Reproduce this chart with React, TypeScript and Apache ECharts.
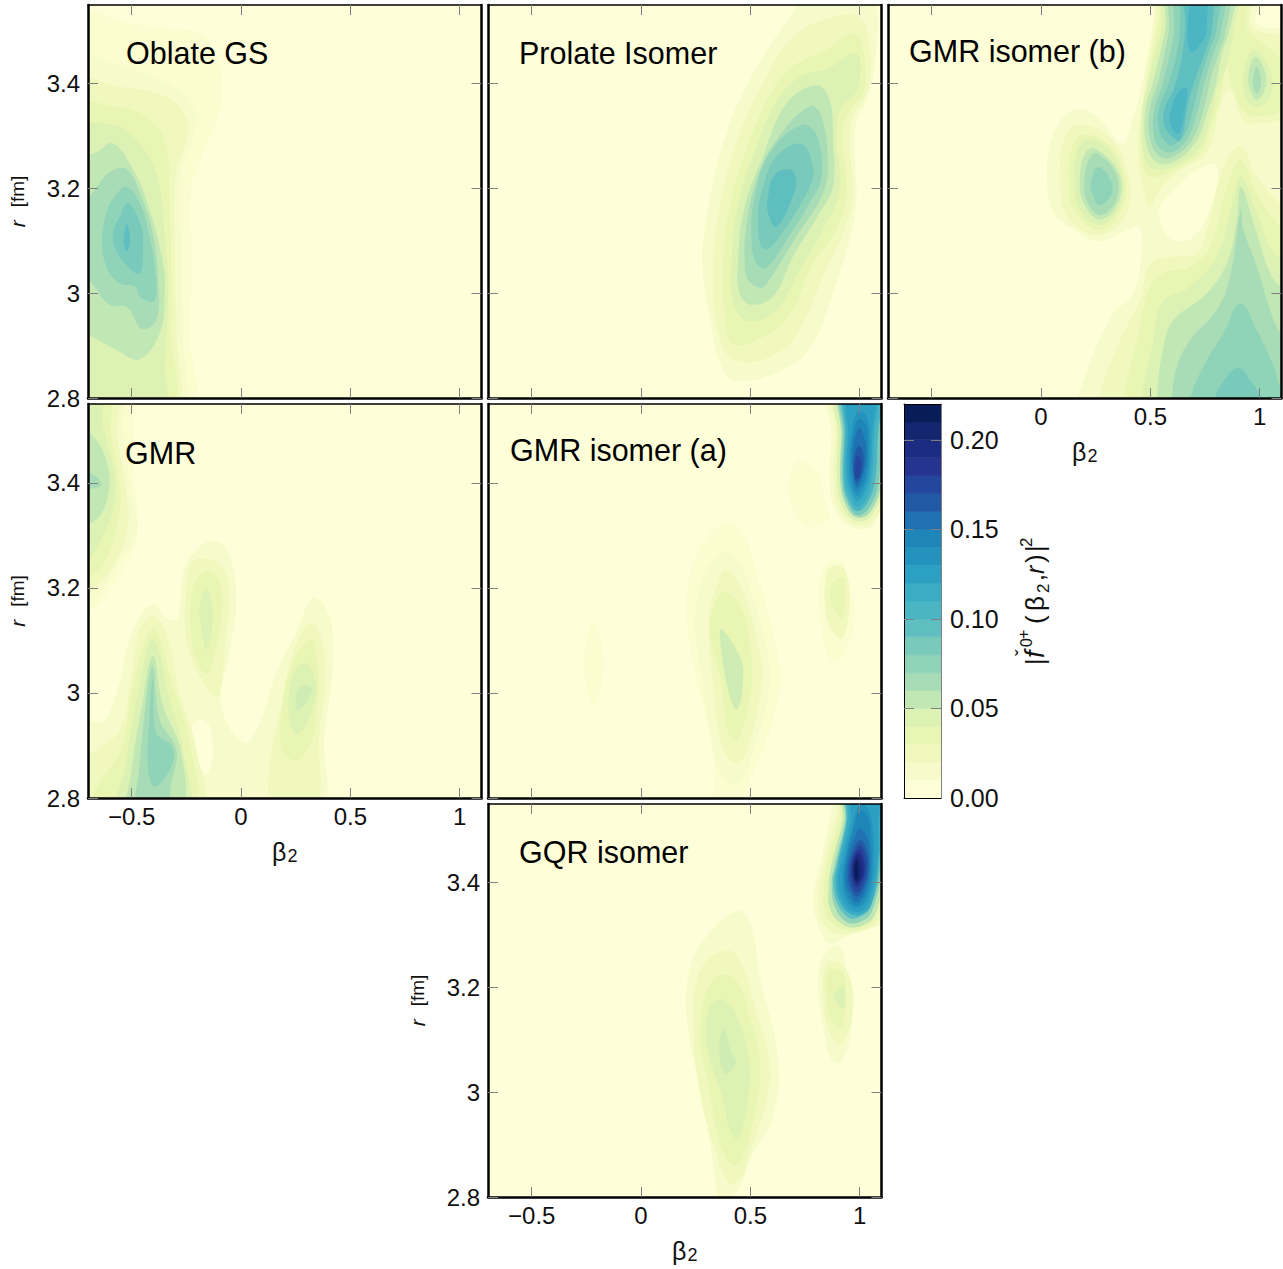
import React, { useEffect, useRef } from "react";
import * as echarts from "echarts";

type Contour = [number, number[]];

const bandColors = ["#FEFFD8","#F7FBCB","#F0F8BE","#E8F5B3","#DCF1B4","#C1E7B5","#A7DCB6","#8FD3B9","#7ACABC","#5FBEC0","#4BB5C3","#3AACC4","#2CA0C2","#2393BE","#1E85B8","#2071B1","#2159A5","#23479C","#26348F","#1D2C83","#14266F","#081D58"];
const paleColor = "#FBFDD1";
const softGreen = "#CFECB5";
const barLevels = [0,0.01,0.02,0.03,0.04,0.05,0.06,0.07,0.08,0.09,0.1,0.11,0.12,0.13,0.14,0.15,0.16,0.17,0.18,0.19,0.2,0.21];
const barTicks = [0,0.05,0.1,0.15,0.2];
const barTickMarks = [0.05,0.1,0.15,0.2];
const betaTicks = [-0.5,0,0.5,1];
const betaTicksNoNeg = [0,0.5,1];
const rTicks = [2.8,3,3.2,3.4];

const oblateContours: Contour[] = [
[0.5,[-.753,3.527,-.494,3.515,-.342,3.505,-.190,3.496,-.113,3.451,-.083,3.381,-.106,3.337,-.190,3.248,-.225,3.203,-.225,3.051,-.232,2.924,-.240,2.772,-.753,2.772]],
[1,[-.753,3.445,-.571,3.438,-.418,3.416,-.281,3.388,-.212,3.356,-.212,3.305,-.273,3.235,-.269,3.051,-.266,2.924,-.289,2.772,-.753,2.772]],
[2,[-.753,3.400,-.555,3.394,-.357,3.378,-.266,3.349,-.243,3.305,-.296,3.229,-.301,3.051,-.296,2.924,-.311,2.772,-.753,2.772]],
[3,[-.753,3.356,-.586,3.357,-.449,3.340,-.350,3.292,-.327,3.178,-.319,3.019,-.319,2.924,-.327,2.772,-.753,2.772]],
[4,[-.753,3.308,-.586,3.321,-.479,3.292,-.388,3.229,-.350,3.114,-.334,2.988,-.350,2.860,-.357,2.772,-.753,2.772]],
[5,[-.586,3.286,-.510,3.248,-.433,3.178,-.357,3.057,-.350,2.988,-.372,2.924,-.464,2.874,-.571,2.892,-.700,2.921,-.753,2.930,-.753,3.241,-.647,3.273]],
[6,[-.578,3.236,-.517,3.235,-.456,3.184,-.403,3.114,-.380,3.026,-.388,2.949,-.456,2.932,-.517,2.972,-.601,2.978,-.670,3.013,-.738,3.051,-.738,3.140,-.647,3.210]],
[7,[-.525,3.203,-.464,3.172,-.426,3.121,-.395,3.051,-.395,2.986,-.456,2.991,-.487,3.013,-.555,3.019,-.616,3.051,-.636,3.102,-.616,3.153,-.578,3.184]],
[8,[-.517,3.172,-.456,3.127,-.449,3.083,-.464,3.037,-.532,3.057,-.578,3.089,-.586,3.114,-.555,3.146]],
[9,[-.523,3.132,-.507,3.102,-.523,3.080,-.537,3.102]],
];

const prolateContours: Contour[] = [
[1,[.909,3.565,1.061,3.565,1.069,3.432,1.030,3.368,.985,3.324,.977,3.273,.985,3.178,.954,3.102,.878,3.000,.787,2.905,.665,2.857,.436,2.832,.368,2.860,.322,2.937,.281,3.051,.307,3.165,.390,3.305,.512,3.419,.680,3.527,.756,3.565]],
[2,[.878,3.527,1.0,3.527,1.049,3.464,1.038,3.388,.970,3.337,.954,3.292,.970,3.184,.924,3.114,.832,3.032,.756,2.956,.649,2.892,.436,2.870,.352,2.924,.329,3.051,.360,3.165,.451,3.305,.573,3.413,.695,3.489]],
[3,[.832,3.461,.977,3.495,1.023,3.445,1.015,3.381,.954,3.349,.924,3.305,.939,3.184,.893,3.121,.771,3.045,.695,2.968,.588,2.924,.428,2.902,.383,2.956,.375,3.051,.406,3.165,.497,3.292,.619,3.400,.710,3.438]],
[4,[.855,3.429,.985,3.457,1.0,3.407,.970,3.375,.924,3.362,.893,3.305,.909,3.197,.832,3.121,.710,3.032,.619,2.968,.497,2.946,.428,2.975,.413,3.045,.444,3.165,.528,3.280,.634,3.375,.741,3.416]],
[5,[.802,3.397,.863,3.368,.878,3.292,.878,3.203,.817,3.153,.695,3.070,.604,2.994,.505,2.978,.451,3.000,.444,3.064,.474,3.165,.558,3.261,.665,3.362]],
[6,[.771,3.357,.825,3.337,.855,3.241,.825,3.184,.710,3.108,.588,3.026,.550,3.010,.489,3.026,.474,3.064,.482,3.127,.528,3.216,.619,3.292]],
[7,[.733,3.321,.802,3.302,.825,3.222,.771,3.172,.695,3.121,.573,3.048,.528,3.057,.505,3.102,.520,3.184,.588,3.267]],
[8,[.733,3.285,.787,3.241,.779,3.210,.695,3.146,.588,3.086,.550,3.089,.535,3.140,.550,3.191,.619,3.261]],
[9,[.680,3.236,.710,3.216,.688,3.178,.619,3.127,.581,3.153,.581,3.184,.611,3.226]],
];

const isomerBContours: Contour[] = [
[1,[.515,3.572,.987,3.572,.987,3.515,1.170,3.489,1.170,2.772,.164,2.772,.180,2.816,.324,2.959,.423,3.000,.462,3.102,.446,3.127,.362,3.114,.256,3.099,.149,3.121,.058,3.153,.027,3.229,.058,3.305,.149,3.349,.256,3.337,.370,3.286,.423,3.337,.462,3.400,.515,3.527]],
[0,[.545,3.165,.622,3.203,.713,3.235,.797,3.245,.804,3.203,.759,3.146,.698,3.108,.622,3.099,.561,3.121]],
[2,[.263,2.772,.263,2.800,.362,2.911,.454,2.988,.500,3.057,.606,3.070,.713,3.076,.759,3.121,.835,3.241,.914,3.280,.987,3.222,1.109,3.165,1.170,3.153,1.170,2.772]],
[3,[.378,2.772,.378,2.800,.439,2.911,.500,3.013,.561,3.038,.683,3.051,.774,3.089,.850,3.203,.914,3.254,.987,3.191,1.094,3.127,1.170,3.102,1.170,2.772]],
[4,[.469,2.772,.462,2.800,.515,2.911,.553,2.981,.683,3.013,.804,3.070,.881,3.178,.914,3.222,.987,3.153,1.064,3.076,1.170,3.051,1.170,2.772]],
[5,[.538,2.772,.530,2.800,.561,2.899,.606,2.949,.759,3.000,.850,3.057,.896,3.140,.914,3.203,.987,3.114,1.064,3.026,1.170,2.988,1.170,2.772]],
[6,[.606,2.772,.599,2.800,.622,2.860,.683,2.911,.804,2.968,.865,3.032,.914,3.159,.926,3.121,.987,3.051,1.064,2.949,1.109,2.918,1.170,2.905,1.170,2.772]],
[7,[.683,2.772,.683,2.800,.743,2.860,.835,2.924,.911,2.980,.987,2.930,1.064,2.860,1.094,2.822,1.170,2.772]],
[8,[.789,2.772,.797,2.803,.865,2.848,.911,2.857,.965,2.829,1.010,2.800,1.010,2.772]],
[2,[.545,3.572,.949,3.572,.965,3.508,1.140,3.480,1.140,3.343,.987,3.324,.926,3.330,.865,3.388,.827,3.369,.789,3.299,.743,3.261,.637,3.235,.553,3.203,.497,3.165,.469,3.197,.442,3.279,.477,3.400,.527,3.527]],
[3,[.561,3.572,.934,3.572,.942,3.508,1.018,3.476,1.109,3.438,1.109,3.356,.987,3.337,.926,3.349,.873,3.394,.850,3.432,.820,3.375,.774,3.311,.728,3.267,.637,3.241,.530,3.222,.477,3.229,.457,3.305,.487,3.400,.542,3.527]],
[4,[.568,3.572,.896,3.572,.881,3.508,.850,3.435,.804,3.388,.774,3.330,.728,3.280,.637,3.248,.530,3.235,.477,3.254,.462,3.343,.500,3.419,.553,3.508]],
[5,[.591,3.572,.873,3.572,.865,3.508,.827,3.457,.797,3.394,.759,3.343,.713,3.292,.622,3.254,.538,3.248,.484,3.280,.477,3.349,.515,3.407,.568,3.502]],
[6,[.606,3.572,.850,3.572,.843,3.496,.812,3.457,.774,3.407,.743,3.349,.690,3.292,.606,3.261,.545,3.261,.500,3.292,.497,3.349,.538,3.407,.583,3.496]],
[7,[.629,3.572,.827,3.572,.827,3.508,.789,3.457,.751,3.407,.721,3.356,.675,3.299,.606,3.270,.545,3.276,.515,3.305,.518,3.349,.561,3.407,.606,3.489]],
[8,[.652,3.572,.804,3.572,.804,3.508,.766,3.457,.728,3.407,.698,3.356,.660,3.305,.606,3.283,.568,3.289,.538,3.315,.538,3.349,.583,3.400,.629,3.476,.637,3.527]],
[9,[.667,3.572,.774,3.572,.782,3.508,.743,3.451,.698,3.400,.667,3.349,.637,3.292,.591,3.302,.561,3.324,.568,3.356,.606,3.388,.644,3.451,.660,3.508]],
[10,[.698,3.572,.751,3.572,.759,3.515,.743,3.483,.687,3.461,.670,3.502]],
[10,[.637,3.388,.667,3.391,.660,3.356,.629,3.305,.591,3.324,.599,3.356]],
[4,[.972,3.464,1.048,3.426,1.048,3.375,.987,3.356,.942,3.369,.926,3.413]],
[5,[.980,3.451,1.025,3.422,1.025,3.391,.987,3.369,.957,3.388,.949,3.419]],
[6,[.987,3.432,1.006,3.403,.987,3.381,.969,3.403]],
[2,[.164,3.321,.309,3.299,.393,3.235,.393,3.153,.263,3.111,.119,3.146,.088,3.229,.103,3.292]],
[3,[.187,3.302,.294,3.289,.375,3.235,.375,3.165,.271,3.121,.149,3.159,.126,3.222,.142,3.280]],
[4,[.202,3.292,.279,3.286,.362,3.235,.366,3.172,.271,3.130,.172,3.165,.154,3.222,.164,3.267]],
[5,[.248,3.276,.355,3.229,.355,3.175,.271,3.140,.195,3.172,.177,3.216,.202,3.267]],
[6,[.256,3.267,.344,3.226,.344,3.178,.271,3.149,.210,3.175,.198,3.216,.218,3.254]],
[7,[.263,3.241,.324,3.210,.317,3.184,.263,3.168,.241,3.184,.228,3.210]],
];

const gmrContours: Contour[] = [
[0.5,[-.753,3.572,-.517,3.572,-.494,3.432,-.472,3.305,-.525,3.248,-.632,3.178,-.700,3.153,-.753,3.140]],
[1,[-.753,3.572,-.555,3.572,-.540,3.496,-.502,3.381,-.475,3.305,-.540,3.261,-.647,3.191,-.700,3.172,-.753,3.159]],
[2,[-.753,3.572,-.578,3.572,-.563,3.483,-.528,3.388,-.517,3.318,-.593,3.235,-.700,3.191,-.753,3.178]],
[3,[-.753,3.572,-.609,3.572,-.593,3.489,-.563,3.419,-.552,3.356,-.616,3.254,-.700,3.216,-.753,3.203]],
[4,[-.753,3.572,-.647,3.572,-.632,3.508,-.578,3.413,-.586,3.349,-.647,3.286,-.700,3.254,-.753,3.241]],
[5,[-.753,3.508,-.677,3.489,-.609,3.432,-.609,3.375,-.647,3.337,-.700,3.321,-.753,3.318]],
[6,[-.753,3.419,-.693,3.419,-.639,3.397,-.693,3.388,-.753,3.384]],
[1,[-.753,2.946,-.632,2.946,-.571,3.000,-.494,3.121,-.403,3.170,-.342,3.143,-.289,3.143,-.266,3.229,-.205,3.273,-.113,3.289,-.052,3.261,-.022,3.178,-.052,3.076,-.091,2.975,.016,2.905,.085,2.943,.161,3.038,.252,3.114,.329,3.181,.405,3.146,.420,3.051,.382,2.924,.336,2.772,-.753,2.772]],
[0,[-.220,2.940,-.159,2.946,-.129,2.899,-.151,2.845,-.174,2.848,-.212,2.899]],
[2,[-.403,3.146,-.342,3.114,-.281,3.000,-.205,2.892,-.190,2.772,-.753,2.772,-.753,2.864,-.662,2.892,-.555,2.930,-.502,3.032,-.464,3.121]],
[3,[-.403,3.121,-.312,3.013,-.243,2.918,-.228,2.772,-.700,2.772,-.647,2.829,-.548,2.892,-.494,3.013]],
[4,[-.403,3.102,-.327,2.988,-.266,2.892,-.251,2.772,-.555,2.772,-.525,2.867,-.464,3.013]],
[5,[-.403,3.070,-.357,2.975,-.273,2.886,-.281,2.772,-.510,2.772,-.502,2.848,-.456,2.968]],
[6,[-.403,3.051,-.372,2.949,-.296,2.892,-.319,2.829,-.350,2.772,-.472,2.772,-.464,2.860,-.433,2.988]],
[7,[-.403,3.026,-.388,2.924,-.316,2.899,-.319,2.860,-.395,2.822,-.426,2.860,-.418,2.956]],
[2,[-.159,3.255,-.083,3.238,-.052,3.178,-.068,3.114,-.098,2.994,-.129,2.994,-.205,3.045,-.251,3.102,-.254,3.191,-.228,3.248]],
[3,[-.156,3.232,-.098,3.210,-.091,3.140,-.129,3.064,-.159,3.035,-.205,3.064,-.228,3.114,-.220,3.197]],
[4,[-.159,3.197,-.129,3.153,-.159,3.083,-.182,3.127,-.190,3.159]],
[2,[.153,2.772,.130,2.860,.184,2.975,.237,3.076,.321,3.134,.377,3.089,.382,3.000,.359,2.924,.336,2.772]],
[3,[.219,2.876,.184,2.899,.184,2.962,.237,3.057,.321,3.102,.351,3.051,.351,2.988,.321,2.905,.260,2.873]],
[4,[.260,2.921,.219,2.956,.237,3.032,.290,3.057,.336,3.032,.329,2.975]],
[4.5,[.275,3.013,.325,3.007,.260,2.965,.252,2.994]],
];

const isomerAContours: Contour[] = [
[0.5,[.394,3.323,.467,3.305,.543,3.210,.634,3.051,.627,2.988,.558,2.892,.467,2.800,.467,2.772,.345,2.772,.330,2.892,.238,3.051,.208,3.165,.238,3.248,.330,3.311]],
[1,[.383,3.268,.451,3.248,.497,3.203,.573,3.089,.589,3.019,.528,2.911,.451,2.829,.368,2.841,.314,2.924,.269,3.051,.246,3.146,.299,3.235]],
[2,[.387,3.234,.467,3.191,.543,3.076,.551,3.013,.482,2.886,.429,2.867,.375,2.892,.345,2.956,.314,3.089,.314,3.153,.345,3.203]],
[3,[.383,3.194,.467,3.153,.505,3.064,.505,3.013,.444,2.913,.398,2.924,.368,3.019,.314,3.114,.330,3.159]],
[4.5,[.368,3.121,.451,3.070,.467,3.026,.439,2.968,.398,3.006,.363,3.095]],
[0.5,[.863,3.251,.924,3.248,.954,3.197,.977,3.146,.939,3.083,.893,3.060,.848,3.076,.817,3.153,.817,3.216]],
[2,[.871,3.241,.927,3.238,.954,3.178,.921,3.105,.863,3.127,.840,3.178,.848,3.229]],
[3,[.871,3.203,.924,3.219,.932,3.178,.921,3.141,.871,3.172]],
[0.5,[.726,3.442,.817,3.419,.840,3.362,.863,3.337,.794,3.315,.711,3.337,.672,3.394,.695,3.432]],
[0.5,[-.22,3.133,-.172,3.06,-.215,2.977,-.262,3.055]],
[1,[.863,3.572,.871,3.496,.863,3.400,.893,3.343,.970,3.315,1.046,3.315,1.092,3.343,1.137,3.432,1.168,3.572]],
[2,[.881,3.572,.890,3.496,.881,3.400,.909,3.346,.985,3.319,1.061,3.327,1.122,3.381,1.137,3.496,1.137,3.572]],
[4,[.893,3.572,.901,3.496,.898,3.400,.927,3.349,.988,3.327,1.053,3.337,1.107,3.388,1.122,3.496,1.122,3.572]],
[6,[.912,3.572,.916,3.496,.912,3.400,.942,3.353,.988,3.334,1.046,3.343,1.095,3.391,1.110,3.496,1.114,3.572]],
[8,[.921,3.572,.924,3.496,.921,3.400,.950,3.356,.988,3.338,1.038,3.349,1.084,3.394,1.095,3.496,1.107,3.572]],
[10,[.932,3.572,.932,3.496,.927,3.400,.954,3.362,.988,3.346,1.031,3.359,1.069,3.400,1.084,3.496,1.095,3.572]],
[11,[.939,3.572,.939,3.496,.936,3.407,.962,3.369,.988,3.355,1.023,3.365,1.053,3.403,1.069,3.496,1.076,3.572]],
[12,[.947,3.572,.947,3.496,.942,3.413,.967,3.378,.988,3.365,1.015,3.375,1.046,3.410,1.058,3.496,1.064,3.572]],
[13,[.993,3.537,1.031,3.527,1.046,3.483,1.038,3.419,1.008,3.381,.985,3.375,.962,3.394,.951,3.432,.962,3.496]],
[14,[.997,3.521,1.031,3.508,1.038,3.464,1.028,3.413,1.000,3.388,.982,3.384,.967,3.403,.959,3.438,.970,3.489]],
[15,[1.000,3.505,1.023,3.483,1.031,3.451,1.015,3.416,.988,3.391,.973,3.410,.967,3.442,.977,3.483]],
[16,[.997,3.470,1.018,3.451,1.008,3.413,.985,3.400,.973,3.419,.973,3.445]],
[17,[.988,3.451,1.008,3.438,1.000,3.416,.985,3.407,.977,3.422]],
];

const gqrContours: Contour[] = [
[1,[.434,3.346,.498,3.325,.544,3.220,.628,3.062,.605,2.954,.498,2.871,.453,2.820,.361,2.776,.346,2.814,.285,2.985,.217,3.112,.217,3.227,.285,3.290]],
[2,[.392,3.271,.460,3.246,.529,3.151,.582,3.074,.582,2.998,.498,2.884,.460,2.839,.407,2.824,.338,2.890,.270,2.998,.239,3.125,.270,3.233]],
[3,[.384,3.224,.445,3.208,.498,3.144,.541,3.068,.537,2.998,.460,2.868,.415,2.862,.361,2.903,.316,2.998,.270,3.100,.278,3.151,.316,3.208]],
[4,[.369,3.177,.430,3.151,.491,3.068,.491,2.998,.445,2.911,.407,2.928,.377,2.985,.308,3.074,.300,3.125,.316,3.163]],
[4.5,[.377,3.120,.415,3.074,.434,3.055,.384,3.036,.358,3.087]],
[1,[.910,3.278,.956,3.163,.963,3.125,.918,3.059,.872,3.062,.834,3.125,.811,3.201,.834,3.259]],
[2,[.849,3.246,.933,3.239,.971,3.163,.918,3.093,.864,3.112,.834,3.176]],
[3,[.857,3.232,.925,3.227,.933,3.170,.918,3.122,.864,3.144,.849,3.182]],
[4,[.925,3.203,.928,3.160,.883,3.182]],
[1,[.864,3.570,.872,3.538,.826,3.449,.788,3.367,.819,3.309,.864,3.284,.940,3.297,1.032,3.313,1.100,3.322,1.154,3.367,1.184,3.570]],
[2,[.895,3.570,.895,3.532,.841,3.443,.811,3.373,.834,3.322,.895,3.303,1.001,3.306,1.093,3.328,1.154,3.430,1.154,3.570]],
[3,[.918,3.570,.910,3.525,.857,3.443,.834,3.379,.849,3.335,.910,3.313,.986,3.309,1.078,3.332,1.139,3.430,1.139,3.570]],
[5,[.928,3.570,.922,3.519,.872,3.436,.857,3.386,.867,3.347,.925,3.319,1.001,3.316,1.070,3.338,1.111,3.430,1.123,3.570]],
[7,[.940,3.570,.933,3.519,.887,3.436,.872,3.398,.887,3.354,.940,3.325,1.001,3.325,1.055,3.344,1.100,3.430,1.108,3.570]],
[9,[.948,3.570,.937,3.513,.895,3.436,.879,3.398,.902,3.357,.956,3.332,1.001,3.335,1.047,3.351,1.093,3.430,1.100,3.570]],
[11,[.956,3.570,.943,3.519,.902,3.436,.890,3.398,.918,3.357,.971,3.338,1.017,3.341,1.055,3.360,1.085,3.430,1.093,3.570]],
[12,[.971,3.570,.956,3.513,.913,3.436,.902,3.398,.933,3.357,.979,3.344,1.017,3.347,1.047,3.367,1.078,3.430,1.085,3.506,1.078,3.570]],
[13,[1.001,3.551,1.040,3.538,1.062,3.493,1.062,3.424,1.040,3.373,.986,3.351,.940,3.367,.921,3.405,.933,3.449,.963,3.500]],
[14,[1.001,3.538,1.040,3.522,1.050,3.487,1.055,3.424,1.032,3.379,.986,3.357,.948,3.373,.928,3.405,.940,3.449,.971,3.500]],
[15,[1.001,3.503,1.035,3.484,1.047,3.430,1.024,3.382,.986,3.363,.956,3.379,.937,3.405,.948,3.449,.979,3.487]],
[16,[1.001,3.481,1.032,3.462,1.040,3.424,1.017,3.389,.986,3.373,.959,3.389,.948,3.411,.959,3.449]],
[17,[1.001,3.471,1.029,3.449,1.029,3.417,1.009,3.392,.986,3.382,.963,3.398,.956,3.420,.968,3.449]],
[18,[.998,3.462,1.020,3.443,1.020,3.414,1.001,3.398,.986,3.391,.968,3.405,.963,3.424,.974,3.449]],
[19,[.994,3.455,1.014,3.436,1.012,3.411,.989,3.397,.971,3.411,.968,3.427,.979,3.446]],
[20,[.989,3.449,1.001,3.433,1.001,3.408,.986,3.401,.974,3.414,.972,3.430]],
[21,[.985,3.443,.992,3.427,.991,3.408,.982,3.405,.977,3.420]],
];

const FONT = "Liberation Sans";
const TICK = "#808080";
const levelColor = (l: number) => (l === 0.5 ? paleColor : l === 4.5 ? softGreen : bandColors[l]);
const fmtBeta = (v: number) => (v < 0 ? "\u2212" + -v : String(v));

const panels = [
  { title: "Oblate GS", tx: 126, ty: 53, l: 88, t: 5, h: 393, contours: oblateContours, xLabels: null as number[] | null, yLabels: true, xName: false },
  { title: "Prolate Isomer", tx: 519, ty: 53, l: 488, t: 5, h: 393, contours: prolateContours, xLabels: null, yLabels: false, xName: false },
  { title: "GMR isomer (b)", tx: 909, ty: 51, l: 888, t: 5, h: 393, contours: isomerBContours, xLabels: betaTicksNoNeg, yLabels: false, xName: true },
  { title: "GMR", tx: 125, ty: 453, l: 88, t: 404, h: 394, contours: gmrContours, xLabels: betaTicks, yLabels: true, xName: true },
  { title: "GMR isomer (a)", tx: 510, ty: 450, l: 488, t: 404, h: 394, contours: isomerAContours, xLabels: null, yLabels: false, xName: false },
  { title: "GQR isomer", tx: 519, ty: 852, l: 488, t: 804, h: 393, contours: gqrContours, xLabels: betaTicks, yLabels: true, xName: true },
];

function buildOption() {
  const grid: any[] = [];
  const xAxis: any[] = [];
  const yAxis: any[] = [];
  const series: any[] = [];
  const graphic: any[] = [];

  panels.forEach((p, i) => {
    grid.push({ left: p.l, top: p.t, width: 393.5, height: p.h, show: true, backgroundColor: bandColors[0], borderWidth: 0, outerBoundsMode: "none" });
    const xBase = { gridIndex: i, type: "value", min: -0.7, max: 1.1, z: 5, splitLine: { show: false } };
    const yBase = { gridIndex: i, type: "value", min: 2.8, max: 3.55, z: 5, splitLine: { show: false } };
    const tickX = { show: true, inside: true, length: 10, customValues: betaTicks, lineStyle: { color: TICK, width: 1 } };
    const tickY = { show: true, inside: true, length: 10, customValues: rTicks, lineStyle: { color: TICK, width: 1 } };
    xAxis.push({
      ...xBase, position: "bottom",
      axisLine: { show: true, onZero: false, lineStyle: { color: "#000", width: 2.5 } },
      axisTick: tickX,
      axisLabel: p.xLabels
        ? { show: true, customValues: p.xLabels, formatter: fmtBeta, fontFamily: FONT, fontSize: 24, color: "#111", margin: 6 }
        : { show: false },
      ...(p.xName
        ? {
            name: "{a|\u03b2}{b|2}", nameLocation: "middle", nameGap: 41,
            nameTextStyle: { rich: { a: { fontFamily: FONT, fontSize: 25, color: "#111" }, b: { fontFamily: FONT, fontSize: 18, color: "#111", padding: [8, 0, 0, 1] } } },
          }
        : {}),
    });
    xAxis.push({ ...xBase, position: "top", axisLine: { show: true, onZero: false, lineStyle: { color: "#000", width: 1.5 } }, axisTick: tickX, axisLabel: { show: false } });
    yAxis.push({
      ...yBase, position: "left",
      axisLine: { show: true, onZero: false, lineStyle: { color: "#000", width: 2.5 } },
      axisTick: tickY,
      axisLabel: p.yLabels
        ? { show: true, customValues: rTicks, formatter: (v: number) => String(v), fontFamily: FONT, fontSize: 24, color: "#111", margin: 8 }
        : { show: false },
      ...(p.yLabels
        ? {
            name: "{i|r}{n|[fm]}", nameLocation: "middle", nameGap: 60, nameRotate: 90,
            nameTextStyle: { rich: { i: { fontFamily: FONT, fontStyle: "italic", fontSize: 21, color: "#111", padding: [0, 13, 0, 0] }, n: { fontFamily: FONT, fontSize: 19, color: "#111" } } },
          }
        : {}),
    });
    yAxis.push({ ...yBase, position: "right", axisLine: { show: true, onZero: false, lineStyle: { color: "#000", width: 2.5 } }, axisTick: tickY, axisLabel: { show: false } });

    const contours = p.contours;
    series.push({
      type: "custom", coordinateSystem: "cartesian2d", xAxisIndex: 2 * i, yAxisIndex: 2 * i, clip: true, silent: true,
      encode: { x: 0, y: 1 },
      data: contours.map((c) => [c[1][0], c[1][1]]),
      renderItem: (params: any, api: any) => {
        const [level, flat] = contours[params.dataIndex];
        const points: number[][] = [];
        for (let k = 0; k < flat.length; k += 2) points.push(api.coord([flat[k], flat[k + 1]]));
        return { type: "polygon", shape: { points, smooth: 0.4 }, style: { fill: levelColor(level), stroke: null } };
      },
    });
    graphic.push({
      type: "text", x: p.tx, y: p.ty, z: 20,
      style: { text: p.title, fontFamily: FONT, fontSize: 30.5, fill: "#000", verticalAlign: "middle" },
    });
  });

  // colour bar
  const cb = panels.length;
  grid.push({ left: 904, top: 404, width: 37, height: 394, outerBoundsMode: "none" });
  xAxis.push({ gridIndex: cb, type: "value", min: 0, max: 1, position: "bottom", axisLine: { show: true, onZero: false, lineStyle: { color: "#000", width: 1 } }, axisTick: { show: false }, axisLabel: { show: false }, splitLine: { show: false }, z: 5 });
  xAxis.push({ gridIndex: cb, type: "value", min: 0, max: 1, position: "top", axisLine: { show: true, onZero: false, lineStyle: { color: "#000", width: 1 } }, axisTick: { show: false }, axisLabel: { show: false }, splitLine: { show: false }, z: 5 });
  const barTick = { show: true, inside: true, length: 10, customValues: barTickMarks, lineStyle: { color: TICK, width: 1 } };
  yAxis.push({
    gridIndex: cb, type: "value", min: 0, max: 0.22, position: "right", z: 5,
    axisLine: { show: true, onZero: false, lineStyle: { color: "#808080", width: 1 } }, axisTick: barTick, splitLine: { show: false },
    axisLabel: { show: true, customValues: barTicks, formatter: (v: number) => v.toFixed(2), fontFamily: FONT, fontSize: 25, color: "#111", margin: 9 },
  });
  yAxis.push({
    gridIndex: cb, type: "value", min: 0, max: 0.22, position: "left", z: 5,
    axisLine: { show: true, onZero: false, lineStyle: { color: "#000", width: 1 } }, axisTick: barTick, axisLabel: { show: false }, splitLine: { show: false },
  });
  series.push({
    type: "custom", coordinateSystem: "cartesian2d", xAxisIndex: 2 * cb, yAxisIndex: 2 * cb, clip: true, silent: true,
    encode: { x: 0, y: 1 },
    data: barLevels.map((v) => [0, v]),
    renderItem: (params: any, api: any) => {
      const v = barLevels[params.dataIndex];
      const a = api.coord([0, v]);
      const b = api.coord([1, v + 0.01]);
      const col = bandColors[params.dataIndex];
      return { type: "rect", shape: { x: a[0], y: b[1], width: b[0] - a[0], height: a[1] - b[1] }, style: { fill: col, stroke: col, lineWidth: 0.6 } };
    },
  });

  const part = (text: string, x: number, y: number, size: number, italic = false) => ({
    type: "text", x, y,
    style: { text, fontFamily: FONT, fontStyle: italic ? "italic" : "normal", fontSize: size, fill: "#111", verticalAlign: "middle" },
  });
  graphic.push({
    type: "group", x: 1035, y: 665, rotation: Math.PI / 2, z: 20,
    children: [
      part("|", 0, 0, 25),
      part("f", 7, 0, 27, true),
      part("\u02c7", 9, -12, 20),
      part("0", 18, -9, 16),
      part("+", 26, -12, 16),
      part("(", 41, 0, 26),
      part("\u03b2", 54, 0, 26),
      part("2", 72, 8, 17),
      part(",", 84, 0, 25),
      part("r", 91, 0, 25, true),
      part(")", 102, 0, 26),
      part("|", 113, 0, 25),
      part("2", 118, -9, 17),
    ],
  });

  return { animation: false, backgroundColor: "#fff", grid, xAxis, yAxis, series, graphic };
}

export default function App() {
  const ref = useRef<HTMLDivElement>(null);
  useEffect(() => {
    const chart = echarts.init(ref.current!, null, { renderer: "svg" });
    chart.setOption(buildOption());
    return () => chart.dispose();
  }, []);
  return <div ref={ref} style={{ position: "absolute", left: 0, top: 0, width: 1283, height: 1269 }} />;
}
